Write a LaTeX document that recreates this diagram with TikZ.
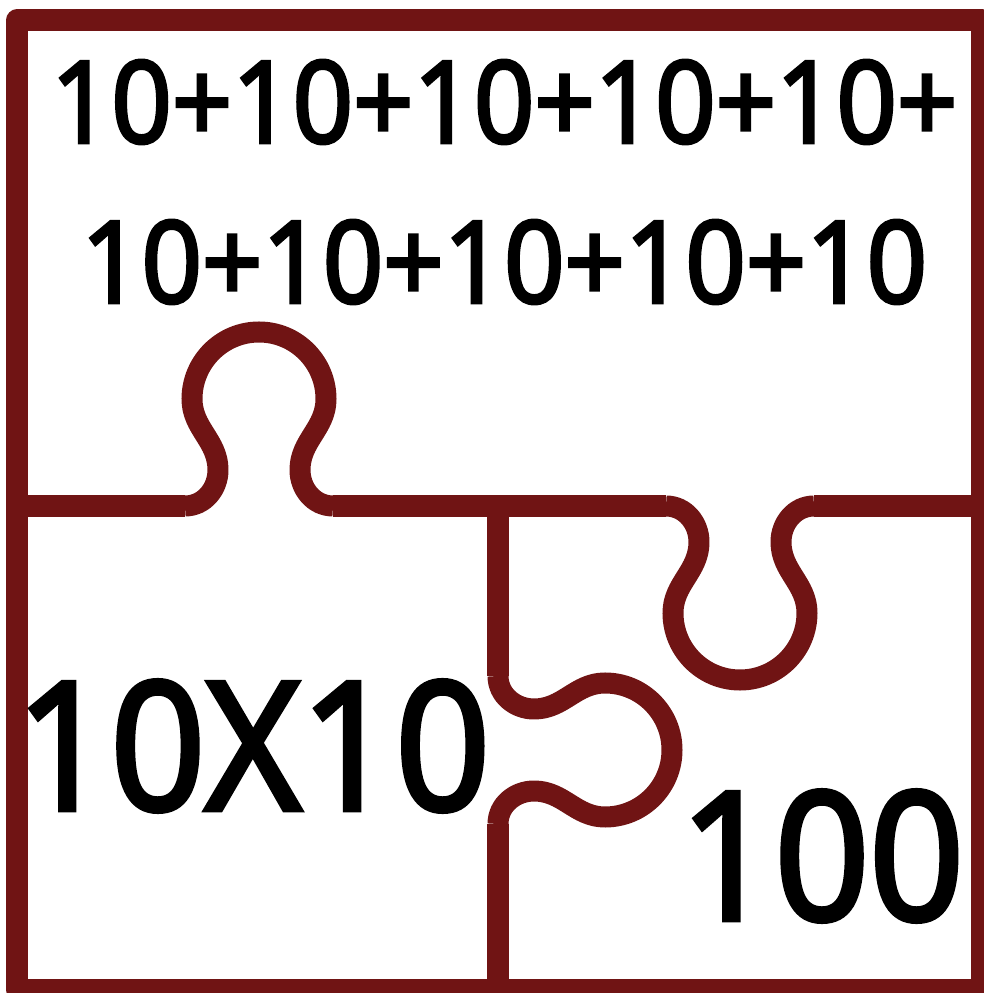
\documentclass[tikz,border=0pt]{standalone}
\usepackage{xcolor}
\usepackage{fontspec}
\setmainfont{Open Sans}[FakeStretch=0.93, FakeBold=3]
\definecolor{puzzlered}{RGB}{112,20,20}
\tikzset{
  edge/.style={draw=puzzlered, line width=0.21cm, line join=round},
  sumtext/.style={font=\fontsize{32.3}{40}\selectfont},
  bigtext/.style={font=\fontsize{50.6}{60}\selectfont},
  pics/knob/.style={code={
    \draw[edge] (-74,0) to[out=0,in=-90] (-41,36) to[out=90,in=-90] (-67,107)
      arc[start angle=180,end angle=0,radius=67]
      to[out=-90,in=90] (41,36) to[out=-90,in=180] (74,0);
  }}
}

\begin{document}
\begin{tikzpicture}[x=0.01cm,y=0.01cm]
\useasboundingbox (0,0) rectangle (984,993);
\draw[edge] (17,3) rectangle (982,973);
% seam between the top piece and the two lower ones
\draw[edge] (17,487) -- (185,487);
\pic at (259,487) {knob};
\draw[edge] (333,487) -- (666,487);
\pic[rotate=180] at (740,487) {knob};
\draw[edge] (814,487) -- (982,487);
% seam between the two lower pieces
\draw[edge] (498,487) -- (498,317);
\pic[rotate=-90] at (498,243) {knob};
\draw[edge] (498,169) -- (498,3);
\node[sumtext] (sumtop) at (504,891) {10+10+10+10+10+};
\node[sumtext] (sumbottom) at (504,731) {10+10+10+10+10};
\node[bigtext] (product) at (253,247) {10X10};
\node[bigtext] (result) at (822,137) {100};
\end{tikzpicture}
\end{document}
